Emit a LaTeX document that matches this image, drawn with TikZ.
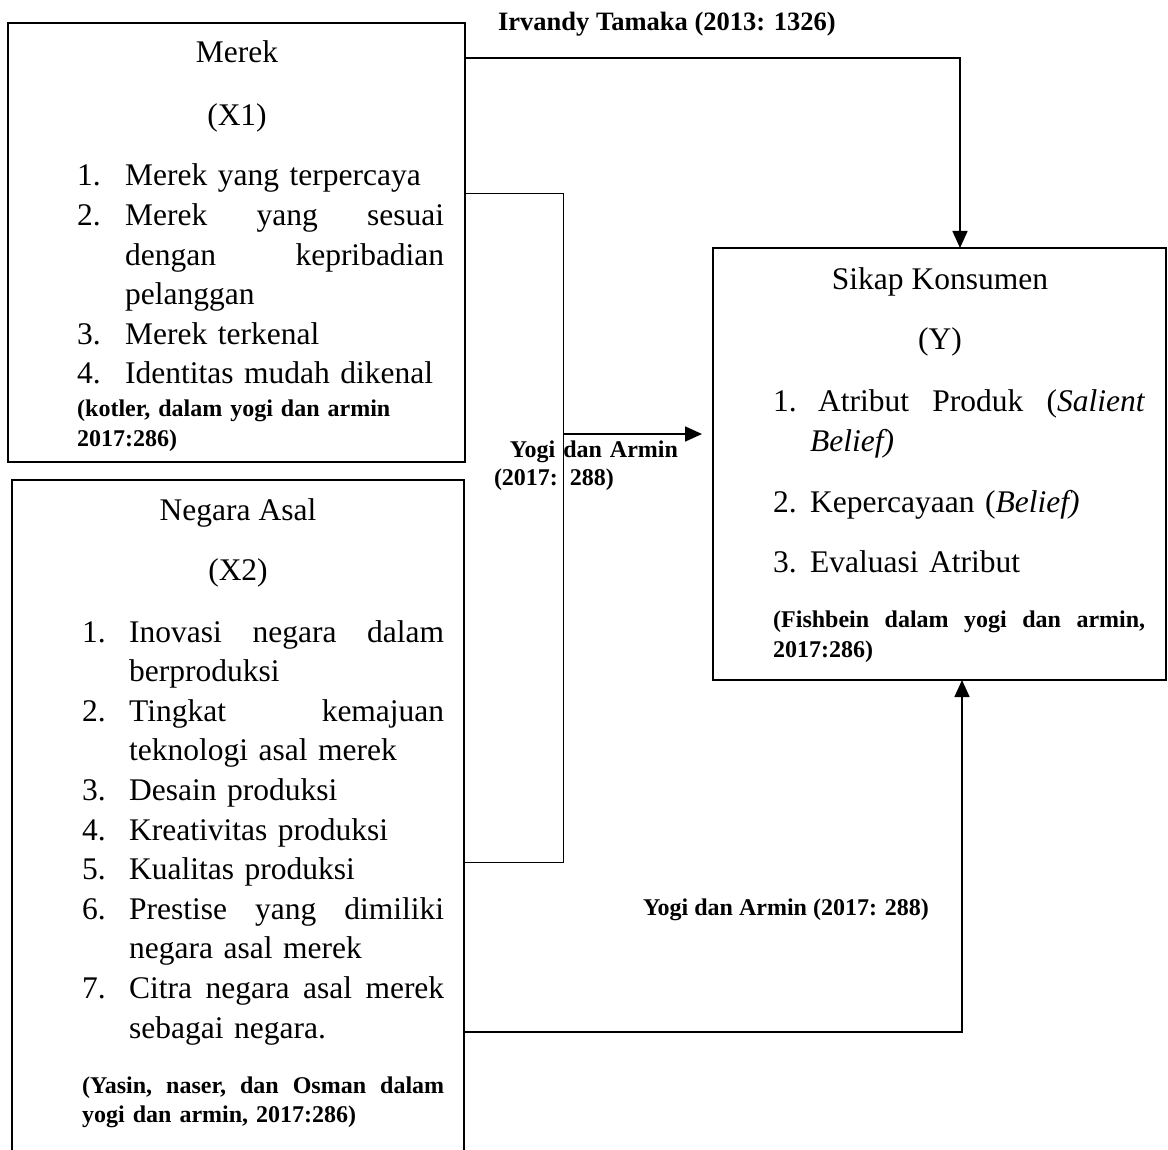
\documentclass[tikz,border=0pt]{standalone}
\usepackage{fontspec}
\setmainfont{Liberation Serif}
\usetikzlibrary{arrows.meta}

\newlength{\itmind}
\newcommand{\itm}[2]{\hangindent=\itmind\hangafter=1\noindent\makebox[\itmind][l]{#1}#2\par}

\begin{document}
\begin{tikzpicture}[
    x=1pt, y=-1pt,
    varbox/.style={rectangle, draw=black, line width=2.2pt, inner sep=0pt, outer sep=0pt, anchor=north west},
    vartitle/.style={font=\fontsize{31.5}{39.6}\selectfont, inner sep=0pt, anchor=base},
    itemlist/.style={font=\fontsize{31.5}{39.6}\selectfont, inner sep=0pt, anchor=base west},
    refnote/.style={font=\fontsize{24}{30}\selectfont\bfseries, inner sep=0pt, anchor=base west},
    link/.style={line width=1.5pt},
    thinlink/.style={line width=1pt},
    arrowlink/.style={line width=1.8pt, -{Triangle[length=17pt,width=15pt]}}
]
\useasboundingbox (0,0) rectangle (1168,1150);

% variable boxes
\node[varbox, minimum width=457pt, minimum height=439pt] (x1box) at (8,23) {};
\node[varbox, minimum width=452pt, minimum height=720pt] (x2box) at (12,480) {};
\node[varbox, minimum width=453pt, minimum height=432pt] (ybox) at (713,248) {};

% Merek (X1)
\node[vartitle] (x1name) at (237,63) {Merek};
\node[vartitle] (x1code) at (237,126) {(X1)};
\node[itemlist, text width=367pt] (x1list) at (77,186) {\setlength{\itmind}{48pt}%
  \itm{1.}{Merek yang terpercaya}%
  \itm{2.}{Merek\hfill yang\hfill sesuai\newline dengan\hfill kepribadian\newline pelanggan}%
  \itm{3.}{Merek terkenal}%
  \itm{4.}{Identitas mudah dikenal}};
\node[refnote, text width=367pt] (x1ref) at (77,417) {(kotler, dalam yogi dan armin\newline 2017:286)};

% Negara Asal (X2)
\node[vartitle] (x2name) at (238,520) {Negara Asal};
\node[vartitle] (x2code) at (238,580) {(X2)};
\node[itemlist, text width=362pt] (x2list) at (82,642) {\setlength{\itmind}{47pt}%
  \itm{1.}{Inovasi\hfill negara\hfill dalam\newline berproduksi}%
  \itm{2.}{Tingkat\hfill kemajuan\newline teknologi asal merek}%
  \itm{3.}{Desain produksi}%
  \itm{4.}{Kreativitas produksi}%
  \itm{5.}{Kualitas produksi}%
  \itm{6.}{Prestise\hfill yang\hfill dimiliki\newline negara asal merek}%
  \itm{7.}{Citra\hfill negara\hfill asal\hfill merek\newline sebagai negara.}};
\node[refnote, text width=362pt, font=\fontsize{24}{29}\selectfont\bfseries] (x2ref) at (82,1093) {(Yasin,\hfill naser,\hfill dan\hfill Osman\hfill dalam\newline yogi dan armin, 2017:286)};

% Sikap Konsumen (Y)
\node[vartitle] (yname) at (940,290) {Sikap Konsumen};
\node[vartitle] (ycode) at (940,350) {(Y)};
\node[itemlist, text width=372pt] (ylist) at (773,412) {\setlength{\itmind}{37pt}%
  \itm{1.}{\hspace{8pt}Atribut\hfill Produk\hfill (\textit{Salient}\newline \textit{Belief)}}\vspace{21pt}%
  \itm{2.}{Kepercayaan (\textit{Belief)}}\vspace{21pt}%
  \itm{3.}{Evaluasi Atribut}};
\node[refnote, text width=372pt] (yref) at (773,627) {(Fishbein\hfill dalam\hfill yogi\hfill dan\hfill armin,\newline 2017:286)};

% sources on the links
\node[refnote, anchor=base, font=\fontsize{26.5}{30}\selectfont\bfseries] (srctop) at (667,31) {Irvandy Tamaka (2013: 1326)};
\node[refnote, anchor=base, text width=200pt, font=\fontsize{24}{28}\selectfont\bfseries] (srcmid) at (594,457) {\centering Yogi dan Armin\par (2017: 288)};
\node[refnote, anchor=base] (srcbot) at (786,915) {Yogi dan Armin (2017: 288)};

% links
\coordinate (topbend) at (960,58);
\coordinate (midtop) at (563,194);
\coordinate (midbot) at (563,862);
\coordinate (midout) at (563,434);
\coordinate (botbend) at (962,1032);

\draw[link, arrowlink, line width=1.5pt] (x1box.east |- topbend) -- (topbend) -- (topbend |- ybox.north);
\draw[thinlink] (x1box.east |- midtop) -- (midtop) -- (midbot) -- (x2box.east |- midbot);
\draw[arrowlink, shorten >=11pt] (midout) -- (ybox.west |- midout);
\draw[arrowlink, line width=1.6pt] (x2box.east |- botbend) -- (botbend) -- (botbend |- ybox.south);

\end{tikzpicture}
\end{document}
